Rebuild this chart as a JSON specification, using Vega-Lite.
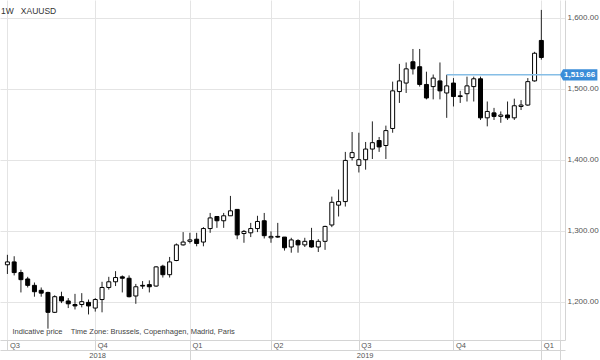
{
  "$schema": "https://vega.github.io/schema/vega-lite/v6.json",
  "width": 565,
  "height": 340,
  "autosize": "none",
  "padding": {"left": 0, "top": 0, "right": 35, "bottom": 20},
  "background": "white",
  "title": {"text": "1W\u00a0\u00a0\u00a0XAUUSD", "anchor": "start", "frame": "group", "orient": "top", "offset": -15, "dx": 1, "fontSize": 8.5, "fontWeight": "normal", "font": "Liberation Sans", "color": "#333"},
  "config": {"view": {"stroke": null}},
  "datasets": {
    "candles": [
      {"date": "2018-07-02", "open": 1252, "high": 1266, "low": 1239, "close": 1256},
      {"date": "2018-07-09", "open": 1256, "high": 1264, "low": 1237, "close": 1241},
      {"date": "2018-07-16", "open": 1241, "high": 1245, "low": 1213, "close": 1231},
      {"date": "2018-07-23", "open": 1232, "high": 1235, "low": 1220, "close": 1223},
      {"date": "2018-07-30", "open": 1223, "high": 1227, "low": 1207, "close": 1214},
      {"date": "2018-08-06", "open": 1216, "high": 1220, "low": 1207, "close": 1212},
      {"date": "2018-08-13", "open": 1213, "high": 1214, "low": 1162, "close": 1185},
      {"date": "2018-08-20", "open": 1185, "high": 1209, "low": 1184, "close": 1207},
      {"date": "2018-08-27", "open": 1207, "high": 1214, "low": 1198, "close": 1201},
      {"date": "2018-09-03", "open": 1201, "high": 1205, "low": 1191, "close": 1197},
      {"date": "2018-09-10", "open": 1196, "high": 1211, "low": 1189, "close": 1194},
      {"date": "2018-09-17", "open": 1196, "high": 1212, "low": 1192, "close": 1200},
      {"date": "2018-09-24", "open": 1199, "high": 1203, "low": 1182, "close": 1194},
      {"date": "2018-10-01", "open": 1191, "high": 1205, "low": 1186, "close": 1203},
      {"date": "2018-10-08", "open": 1203, "high": 1228, "low": 1185, "close": 1220},
      {"date": "2018-10-15", "open": 1220, "high": 1235, "low": 1217, "close": 1228},
      {"date": "2018-10-22", "open": 1228, "high": 1243, "low": 1222, "close": 1234},
      {"date": "2018-10-29", "open": 1235, "high": 1237, "low": 1213, "close": 1233},
      {"date": "2018-11-05", "open": 1233, "high": 1237, "low": 1206, "close": 1207},
      {"date": "2018-11-12", "open": 1208, "high": 1225, "low": 1197, "close": 1221},
      {"date": "2018-11-19", "open": 1223, "high": 1229, "low": 1218, "close": 1222},
      {"date": "2018-11-26", "open": 1224, "high": 1230, "low": 1213, "close": 1221},
      {"date": "2018-12-03", "open": 1222, "high": 1250, "low": 1221, "close": 1249},
      {"date": "2018-12-10", "open": 1250, "high": 1252, "low": 1234, "close": 1238},
      {"date": "2018-12-17", "open": 1238, "high": 1263, "low": 1234, "close": 1256},
      {"date": "2018-12-24", "open": 1258, "high": 1282, "low": 1257, "close": 1280},
      {"date": "2018-12-31", "open": 1280, "high": 1298, "low": 1279, "close": 1284},
      {"date": "2019-01-07", "open": 1285, "high": 1297, "low": 1282, "close": 1287},
      {"date": "2019-01-14", "open": 1288, "high": 1297, "low": 1278, "close": 1282},
      {"date": "2019-01-21", "open": 1284, "high": 1305, "low": 1278, "close": 1303},
      {"date": "2019-01-28", "open": 1303, "high": 1325, "low": 1297, "close": 1318},
      {"date": "2019-02-04", "open": 1320, "high": 1320, "low": 1304, "close": 1314},
      {"date": "2019-02-11", "open": 1314, "high": 1325, "low": 1304, "close": 1321},
      {"date": "2019-02-18", "open": 1321, "high": 1349, "low": 1321, "close": 1328},
      {"date": "2019-02-25", "open": 1330, "high": 1330, "low": 1288, "close": 1294},
      {"date": "2019-03-04", "open": 1296, "high": 1301, "low": 1283, "close": 1299},
      {"date": "2019-03-11", "open": 1297, "high": 1311, "low": 1291, "close": 1303},
      {"date": "2019-03-18", "open": 1303, "high": 1321, "low": 1298, "close": 1313},
      {"date": "2019-03-25", "open": 1314, "high": 1325, "low": 1289, "close": 1293},
      {"date": "2019-04-01", "open": 1290, "high": 1299, "low": 1283, "close": 1292},
      {"date": "2019-04-08", "open": 1292, "high": 1311, "low": 1290, "close": 1291},
      {"date": "2019-04-15", "open": 1291, "high": 1291, "low": 1272, "close": 1276},
      {"date": "2019-04-22", "open": 1277, "high": 1290, "low": 1269, "close": 1287},
      {"date": "2019-04-29", "open": 1286, "high": 1288, "low": 1269, "close": 1280},
      {"date": "2019-05-06", "open": 1280, "high": 1290, "low": 1277, "close": 1285},
      {"date": "2019-05-13", "open": 1286, "high": 1304, "low": 1276, "close": 1277},
      {"date": "2019-05-20", "open": 1277, "high": 1288, "low": 1270, "close": 1285},
      {"date": "2019-05-27", "open": 1285, "high": 1307, "low": 1273, "close": 1306},
      {"date": "2019-06-03", "open": 1308, "high": 1348, "low": 1305, "close": 1340},
      {"date": "2019-06-10", "open": 1336, "high": 1358, "low": 1320, "close": 1341},
      {"date": "2019-06-17", "open": 1341, "high": 1411, "low": 1334, "close": 1399},
      {"date": "2019-06-24", "open": 1403, "high": 1439, "low": 1399, "close": 1410},
      {"date": "2019-07-01", "open": 1392, "high": 1438, "low": 1382, "close": 1400},
      {"date": "2019-07-08", "open": 1400, "high": 1425, "low": 1386, "close": 1415},
      {"date": "2019-07-15", "open": 1415, "high": 1454, "low": 1401, "close": 1424},
      {"date": "2019-07-22", "open": 1427, "high": 1432, "low": 1411, "close": 1418},
      {"date": "2019-07-29", "open": 1420, "high": 1448, "low": 1401, "close": 1441},
      {"date": "2019-08-05", "open": 1444, "high": 1510, "low": 1438, "close": 1497},
      {"date": "2019-08-12", "open": 1496, "high": 1535, "low": 1480, "close": 1511},
      {"date": "2019-08-19", "open": 1508, "high": 1537, "low": 1494, "close": 1528},
      {"date": "2019-08-26", "open": 1538, "high": 1556, "low": 1520, "close": 1528},
      {"date": "2019-09-02", "open": 1531, "high": 1556, "low": 1503, "close": 1506},
      {"date": "2019-09-09", "open": 1506, "high": 1524, "low": 1485, "close": 1487},
      {"date": "2019-09-16", "open": 1503, "high": 1520, "low": 1485, "close": 1515},
      {"date": "2019-09-23", "open": 1511, "high": 1537, "low": 1485, "close": 1497},
      {"date": "2019-09-30", "open": 1494, "high": 1519.66, "low": 1459, "close": 1504},
      {"date": "2019-10-07", "open": 1508, "high": 1515, "low": 1475, "close": 1489},
      {"date": "2019-10-14", "open": 1490, "high": 1497, "low": 1480, "close": 1489},
      {"date": "2019-10-21", "open": 1493, "high": 1517, "low": 1482, "close": 1504},
      {"date": "2019-10-28", "open": 1503, "high": 1517, "low": 1482, "close": 1514},
      {"date": "2019-11-04", "open": 1514, "high": 1517, "low": 1456, "close": 1459},
      {"date": "2019-11-11", "open": 1459, "high": 1482, "low": 1447, "close": 1468},
      {"date": "2019-11-18", "open": 1466, "high": 1473, "low": 1456, "close": 1461},
      {"date": "2019-11-25", "open": 1461, "high": 1468, "low": 1452, "close": 1463},
      {"date": "2019-12-02", "open": 1463, "high": 1482, "low": 1456, "close": 1459},
      {"date": "2019-12-09", "open": 1459, "high": 1486, "low": 1456, "close": 1476},
      {"date": "2019-12-16", "open": 1475, "high": 1484, "low": 1470, "close": 1477},
      {"date": "2019-12-23", "open": 1477, "high": 1515, "low": 1476, "close": 1510},
      {"date": "2019-12-30", "open": 1511, "high": 1552, "low": 1510, "close": 1550},
      {"date": "2020-01-06", "open": 1568, "high": 1611, "low": 1541, "close": 1544}
    ],
    "level": [
      {"start": "2019-09-30", "end": "2020-01-25T08:00:00Z", "price": 1519.66}
    ]
  },
  "layer": [
    {
      "data": {"name": "candles"},
      "mark": {"type": "rule", "color": "#222", "strokeWidth": 1},
      "encoding": {
        "x": {
          "field": "date", "type": "temporal",
          "scale": {"type": "utc", "nice": false, "domain": [{"year": 2018, "month": 6, "date": 29, "hours": 12, "utc": true}, {"year": 2020, "month": 1, "date": 25, "hours": 8, "utc": true}]},
          "axis": {
            "orient": "bottom",
            "values": [
              {"year": 2018, "month": 7, "date": 2, "utc": true},
              {"year": 2018, "month": 10, "date": 1, "utc": true},
              {"year": 2019, "month": 1, "date": 7, "utc": true},
              {"year": 2019, "month": 4, "date": 1, "utc": true},
              {"year": 2019, "month": 7, "date": 1, "utc": true},
              {"year": 2019, "month": 10, "date": 7, "utc": true},
              {"year": 2020, "month": 1, "date": 6, "utc": true},
              {"year": 2020, "month": 1, "date": 25, "hours": 8, "utc": true}
            ],
            "labelExpr": "datum.value > 1579000000000 ? '' : 'Q' + utcquarter(datum.value)",
            "grid": true, "gridColor": "#e4e4e4",
            "ticks": true, "tickSize": 10, "tickColor": "#d4d4d4",
            "domain": true, "domainColor": "#d4d4d4",
            "labelAlign": "left", "labelOffset": 2, "labelPadding": -9, "labelBaseline": "top",
            "labelFontSize": 7.5, "labelColor": "#555", "labelFont": "Liberation Sans",
            "labelFlush": false, "labelOverlap": false, "labelBound": false,
            "title": "Indicative price\u00a0\u00a0\u00a0\u00a0Time Zone: Brussels, Copenhagen, Madrid, Paris",
            "titleX": 12, "titleY": -9, "titleAlign": "left", "titleBaseline": "middle",
            "titleFontSize": 7.5, "titleFontWeight": "normal", "titleColor": "#444", "titleFont": "Liberation Sans"
          }
        },
        "y": {
          "field": "low", "type": "quantitative",
          "scale": {"domain": [1146, 1625], "nice": false, "zero": false},
          "axis": {"orient": "right", "values": [1200, 1300, 1400, 1500, 1600], "format": ",.2f", "title": null, "grid": true, "gridColor": "#e4e4e4", "ticks": false, "domain": true, "domainColor": "#d4d4d4", "labelFontSize": 8, "labelColor": "#555", "labelFont": "Liberation Sans", "labelPadding": 2, "labelBaseline": "middle", "labelFlush": false}
        },
        "y2": {"field": "high"}
      }
    },
    {
      "data": {"name": "candles"},
      "mark": {"type": "bar", "size": 4, "stroke": "#000", "strokeWidth": 1},
      "encoding": {
        "x": {
          "field": "date", "type": "temporal",
          "scale": {"type": "utc", "nice": false, "domain": [{"year": 2018, "month": 6, "date": 29, "hours": 12, "utc": true}, {"year": 2020, "month": 1, "date": 25, "hours": 8, "utc": true}]},
          "axis": {
            "orient": "bottom", "offset": 10,
            "values": [
              {"year": 2018, "month": 10, "date": 3, "utc": true},
              {"year": 2019, "month": 1, "date": 7, "utc": true},
              {"year": 2019, "month": 7, "date": 7, "utc": true},
              {"year": 2020, "month": 1, "date": 6, "utc": true},
              {"year": 2020, "month": 1, "date": 25, "hours": 8, "utc": true}
            ],
            "labelExpr": "utcmonth(datum.value) === 0 ? '' : utcFormat(datum.value, '%Y')",
            "grid": false,
            "ticks": true, "tickSize": 10, "tickColor": "#d4d4d4",
            "tickOpacity": {"condition": {"test": "utcmonth(datum.value) === 0", "value": 1}, "value": 0},
            "domain": true, "domainColor": "#d4d4d4",
            "labelAlign": "center", "labelPadding": -9, "labelBaseline": "top",
            "labelFontSize": 7.5, "labelColor": "#555", "labelFont": "Liberation Sans",
            "labelFlush": false, "labelOverlap": false, "labelBound": false,
            "title": null
          }
        },
        "y": {
          "field": "open", "type": "quantitative",
          "scale": {"domain": [1146, 1625], "nice": false, "zero": false},
          "axis": {"orient": "right", "values": [1200, 1300, 1400, 1500, 1600], "format": ",.2f", "title": null, "grid": true, "gridColor": "#e4e4e4", "ticks": false, "domain": true, "domainColor": "#d4d4d4", "labelFontSize": 8, "labelColor": "#555", "labelFont": "Liberation Sans", "labelPadding": 2, "labelBaseline": "middle", "labelFlush": false}
        },
        "y2": {"field": "close"},
        "fill": {"condition": {"test": "datum.close < datum.open", "value": "#000"}, "value": "#fff"}
      }
    },
    {
      "data": {"name": "level"},
      "mark": {"type": "rule", "color": "#86bee6", "strokeWidth": 1.5},
      "encoding": {
        "x": {"field": "start", "type": "temporal", "axis": null,
          "scale": {"type": "utc", "nice": false, "domain": [{"year": 2018, "month": 6, "date": 29, "hours": 12, "utc": true}, {"year": 2020, "month": 1, "date": 25, "hours": 8, "utc": true}]}},
        "x2": {"field": "end"},
        "y": {"field": "price", "type": "quantitative",
          "scale": {"domain": [1146, 1625], "nice": false, "zero": false},
          "axis": {"orient": "right", "values": [1200, 1300, 1400, 1500, 1600], "format": ",.2f", "title": null, "grid": true, "gridColor": "#e4e4e4", "ticks": false, "domain": true, "domainColor": "#d4d4d4", "labelFontSize": 8, "labelColor": "#555", "labelFont": "Liberation Sans", "labelPadding": 2, "labelBaseline": "middle", "labelFlush": false}}
      }
    },
    {
      "data": {"name": "level"},
      "mark": {"type": "point", "shape": "M0,0L0.18,-0.33L2.2,-0.33L2.2,0.33L0.18,0.33Z", "size": 1156, "filled": true, "fill": "#3a8dd8", "opacity": 1, "strokeWidth": 0},
      "encoding": {
        "x": {"field": "end", "type": "temporal", "axis": null,
          "scale": {"type": "utc", "nice": false, "domain": [{"year": 2018, "month": 6, "date": 29, "hours": 12, "utc": true}, {"year": 2020, "month": 1, "date": 25, "hours": 8, "utc": true}]}},
        "y": {"field": "price", "type": "quantitative",
          "scale": {"domain": [1146, 1625], "nice": false, "zero": false},
          "axis": {"orient": "right", "values": [1200, 1300, 1400, 1500, 1600], "format": ",.2f", "title": null, "grid": true, "gridColor": "#e4e4e4", "ticks": false, "domain": true, "domainColor": "#d4d4d4", "labelFontSize": 8, "labelColor": "#555", "labelFont": "Liberation Sans", "labelPadding": 2, "labelBaseline": "middle", "labelFlush": false}}
      }
    },
    {
      "data": {"name": "level"},
      "mark": {"type": "text", "align": "left", "baseline": "middle", "dx": 4, "fontSize": 8, "font": "Liberation Sans", "fontWeight": "bold", "color": "#fff"},
      "encoding": {
        "x": {"field": "end", "type": "temporal", "axis": null,
          "scale": {"type": "utc", "nice": false, "domain": [{"year": 2018, "month": 6, "date": 29, "hours": 12, "utc": true}, {"year": 2020, "month": 1, "date": 25, "hours": 8, "utc": true}]}},
        "y": {"field": "price", "type": "quantitative",
          "scale": {"domain": [1146, 1625], "nice": false, "zero": false},
          "axis": {"orient": "right", "values": [1200, 1300, 1400, 1500, 1600], "format": ",.2f", "title": null, "grid": true, "gridColor": "#e4e4e4", "ticks": false, "domain": true, "domainColor": "#d4d4d4", "labelFontSize": 8, "labelColor": "#555", "labelFont": "Liberation Sans", "labelPadding": 2, "labelBaseline": "middle", "labelFlush": false}},
        "text": {"field": "price", "type": "quantitative", "format": ",.2f"}
      }
    }
  ],
  "resolve": {"axis": {"x": "independent"}}
}
